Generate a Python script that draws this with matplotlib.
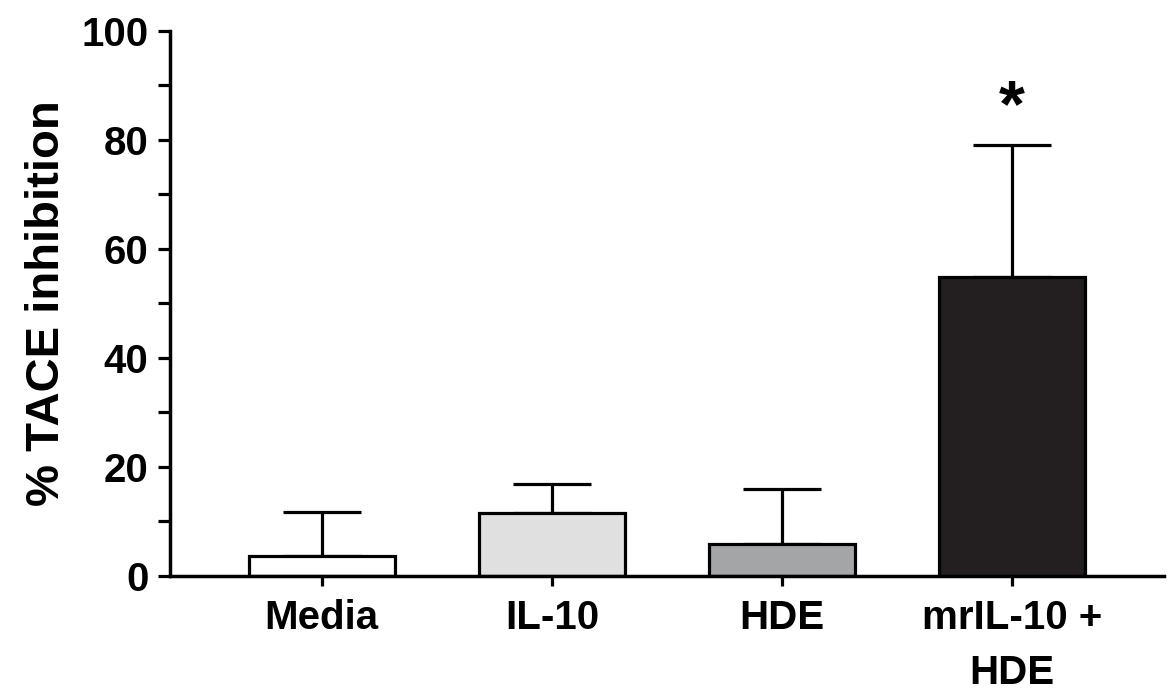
import numpy as np
import matplotlib
matplotlib.use("Agg")
import matplotlib.pyplot as plt

plt.rcParams['font.family'] = ['Liberation Sans', 'DejaVu Sans']
plt.rcParams['font.weight'] = 'bold'

# data
groups = ['Media', 'IL-10', 'HDE', 'mrIL-10 +\nHDE']
means = [3.6, 11.5, 5.8, 54.8]
err_top = [11.7, 16.8, 15.9, 79.0]
colors = ['#ffffff', '#e0e0e0', '#a4a5a7', '#231f20']
star_y = 82.5

fig = plt.figure(figsize=(11.68, 6.94), dpi=100)
ax = fig.add_axes([0.1455, 0.1705, 0.851, 0.785])

x = np.arange(len(groups))
up = np.array(err_top) - np.array(means)
ax.errorbar(x, means, yerr=[np.zeros(len(x)), up], fmt='none', ecolor='black',
            elinewidth=2.3, capsize=28, capthick=2.3, zorder=1)
ax.bar(x, means, width=0.635, color=colors, edgecolor='black', linewidth=2.3, zorder=2)

ax.text(x[3], star_y, '*', ha='center', va='baseline', fontsize=48, fontweight='bold')

ax.set_xlim(-0.66, 3.66)
ax.set_ylim(0, 100)
ax.set_yticks(np.arange(0, 101, 20))
ax.set_yticks(np.arange(10, 100, 20), minor=True)
ax.set_xticks(x)
ax.set_xticklabels(groups, fontsize=29, fontweight='bold', linespacing=1.55)
ax.tick_params(axis='y', which='both', length=8.5, width=2.3, labelsize=29, pad=7)
ax.tick_params(axis='x', length=7, width=2.3, pad=10)

for s in ['top', 'right']:
    ax.spines[s].set_visible(False)
for s in ['left', 'bottom']:
    ax.spines[s].set_linewidth(2.5)

ax.set_ylabel('% TACE inhibition', fontsize=34, fontweight='bold', labelpad=9)

fig.savefig('out.png', dpi=100)
